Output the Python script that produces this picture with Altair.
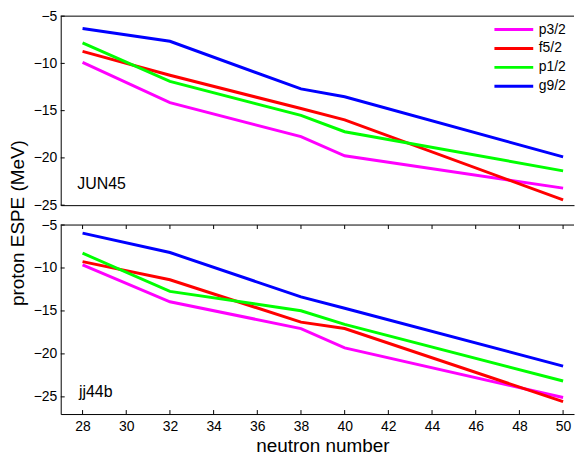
import altair as alt
import pandas as pd

# ---------------- data ----------------
neutron = [28, 32, 38, 40, 50]
orbitals = ["p3/2", "f5/2", "p1/2", "g9/2"]
colors = ["#ff00ff", "#ff0000", "#00ff00", "#0000ff"]

jun45_p32 = [-9.9, -14.15, -17.75, -19.78, -23.2]
jun45_f52 = [-8.73, -11.25, -14.78, -15.98, -24.45]
jun45_p12 = [-7.83, -11.9, -15.5, -17.23, -21.37]
jun45_g92 = [-6.3, -7.66, -12.7, -13.53, -19.89]

jj44b_p32 = [-9.63, -13.93, -17.05, -19.3, -25.08]
jj44b_f52 = [-9.26, -11.37, -16.3, -17.05, -25.56]
jj44b_p12 = [-8.28, -12.72, -14.98, -16.56, -23.15]
jj44b_g92 = [-5.94, -8.2, -13.36, -14.68, -21.42]

panel_labels = ["JUN45", "jj44b"]
x_ticks = [28, 30, 32, 34, 36, 38, 40, 42, 44, 46, 48, 50]
y_ticks = [-5, -10, -15, -20, -25]
x_title = "neutron number"
y_title = "proton ESPE (MeV)"

# ---------------- layout ----------------
W, H = 516, 190
FONT = "Liberation Sans"


def panel(series, ydom, label, label_xy, is_bottom):
    x_scale = alt.Scale(domain=[27, 50.5], nice=False, zero=False)
    y_scale = alt.Scale(domain=ydom, nice=False, zero=False)
    x_axis = alt.Axis(values=x_ticks, ticks=False, grid=False, domain=True,
                      domainColor="black", domainWidth=1, labels=is_bottom,
                      labelFontSize=14, labelFont=FONT, labelColor="black",
                      labelPadding=6, labelFlush=False, title=None)
    y_axis = alt.Axis(values=y_ticks, ticks=False, grid=False, domain=True,
                      domainColor="black", domainWidth=1,
                      labelFontSize=14, labelFont=FONT, labelColor="black",
                      labelPadding=4, labelFlush=False, title=None)
    X = alt.X("N:Q", scale=x_scale, axis=x_axis)
    Y = alt.Y("E:Q", scale=y_scale, axis=y_axis)

    layers = []
    for name, col, vals in zip(orbitals, colors, series):
        df = pd.DataFrame({"N": neutron, "E": vals, "orb": name})
        layers.append(alt.Chart(df).mark_line(color=col, strokeWidth=3).encode(x=X, y=Y))

    # inward y ticks
    yt = pd.DataFrame({"E": y_ticks})
    layers.append(alt.Chart(yt).mark_rule(color="black", strokeWidth=1).encode(
        y=Y, x=alt.value(0), x2=alt.value(4)))

    one = pd.DataFrame({"t": [label]})
    # top frame line
    layers.append(alt.Chart(one).mark_rule(color="black", strokeWidth=1).encode(
        x=alt.value(0), x2=alt.value(W), y=alt.value(0)))

    if is_bottom:
        xt = pd.DataFrame({"N": x_ticks})
        layers.append(alt.Chart(xt).mark_rule(color="black", strokeWidth=1).encode(
            x=X, y=alt.value(H), y2=alt.value(H - 4)))
        layers.append(alt.Chart(xt).mark_rule(color="black", strokeWidth=1).encode(
            x=X, y=alt.value(0), y2=alt.value(4)))
        layers.append(alt.Chart(pd.DataFrame({"t": [x_title]})).mark_text(
            font=FONT, fontSize=19, align="center", baseline="alphabetic", color="black").encode(
            x=alt.value(263.5), y=alt.value(H + 38.5), text="t:N"))
    else:
        # legend
        for i, (name, col) in enumerate(zip(orbitals, colors)):
            ly = 13.5 + 19 * i
            ld = pd.DataFrame({"t": [name]})
            layers.append(alt.Chart(ld).mark_rule(color=col, strokeWidth=3).encode(
                x=alt.value(436), x2=alt.value(475), y=alt.value(ly)))
            layers.append(alt.Chart(ld).mark_text(
                font=FONT, fontSize=14, align="left", baseline="middle", color="black").encode(
                x=alt.value(480.5), y=alt.value(ly), text="t:N"))
        layers.append(alt.Chart(pd.DataFrame({"t": [y_title]})).mark_text(
            font=FONT, fontSize=19, align="center", baseline="alphabetic", angle=270,
            color="black").encode(x=alt.value(-37), y=alt.value(H + 18), text="t:N"))

    layers.append(alt.Chart(one).mark_text(
        font=FONT, fontSize=16, align="left", baseline="alphabetic", color="black").encode(
        x=alt.value(label_xy[0]), y=alt.value(label_xy[1]), text="t:N"))

    return alt.layer(*layers).properties(width=W, height=H)


top = panel([jun45_p32, jun45_f52, jun45_p12, jun45_g92], [-25, -5],
            panel_labels[0], (16.7, 174), False)
bottom = panel([jj44b_p32, jj44b_f52, jj44b_p12, jj44b_g92], [-27, -5],
               panel_labels[1], (18.3, 173), True)

chart = alt.vconcat(top, bottom, spacing=20, bounds="flush").configure_view(
    strokeWidth=0
).properties(
    padding={"left": 1, "top": 0, "right": 0, "bottom": 0},
    background="white",
)

chart.save("out.html", embed_options={"renderer": "svg", "actions": False})
